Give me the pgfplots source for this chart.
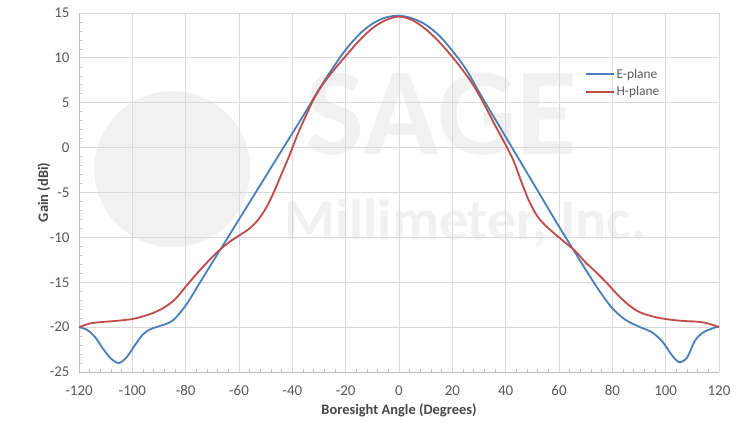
\documentclass[border=0pt]{standalone}
\usepackage{pgfplots}
\pgfplotsset{compat=1.18}
\usepackage{fontspec}
\setmainfont{Carlito}
\definecolor{eblue}{HTML}{4A7EBB}
\definecolor{hred}{HTML}{BE4B48}
\definecolor{tickgray}{HTML}{595959}
\definecolor{gridgray}{HTML}{D9D9D9}
\definecolor{axgray}{HTML}{BFBFBF}
\definecolor{wm}{HTML}{F1F1F1}
\begin{document}
\begin{tikzpicture}
\begin{axis}[
  set layers,
  scale only axis,
  width=640bp, height=359bp,
  xmin=-120, xmax=120, ymin=-25, ymax=15,
  xtick={-120,-100,...,120},
  ytick={-25,-20,...,15},
  minor x tick num=4, minor y tick num=4,
  grid=major,
  major grid style={gridgray, line width=0.8bp},
  axis x line*=bottom, axis y line*=left,
  axis line style={axgray, line width=0.8bp},
  every tick/.style={axgray, line width=0.6bp},
  major tick length=0bp, minor tick length=3bp,
  tick align=inside,
  /pgf/number format/assume math mode=true,
  tick label style={font=\fontsize{15}{17}\selectfont, text=tickgray},
  xticklabel style={yshift=-10bp},
  yticklabel style={xshift=-6bp},
  xlabel={\textbf{Boresight Angle (Degrees)}},
  ylabel={\textbf{Gain (dBi)}},
  label style={font=\fontsize{14.5}{16}\selectfont, text=tickgray!80!black},
  xlabel style={at={(axis description cs:0.5,-0.106)}, anchor=center},
  ylabel style={at={(axis description cs:-0.055,0.5)}, anchor=center},
  legend style={draw=none, fill=none, at={(axis description cs:0.79,0.805)}, anchor=west,
    font=\fontsize{13.5}{15}\selectfont, text=tickgray, row sep=3bp, inner sep=0pt},
  legend cell align=left,
  legend image code/.code={\draw[#1, line width=1.8bp] (0bp,0bp) -- (28bp,0bp);},
]
\begin{pgfonlayer}{axis background}
\fill[wm] (axis cs:-85,-2.4) circle [radius=78bp];
\node[text=wm, font=\fontsize{125}{125}\selectfont\bfseries] at (axis cs:16,3.7) {SAGE};
\node[text=wm, font=\fontsize{58}{58}\selectfont\bfseries] at (axis cs:25,-8.4) {Millimeter, Inc.};
\end{pgfonlayer}
\addplot[eblue, line width=1.8bp, smooth, tension=0.5] coordinates {
(-120,-20.0) (-117,-20.3) (-114,-21.1) (-111,-22.4) (-108,-23.5) (-105,-24.0) (-102,-23.3)
(-99,-22.0) (-96,-20.8) (-93,-20.2) (-90,-19.9) (-85,-19.3) (-80,-17.6) (-75,-15.2)
(-70,-12.8) (-65,-10.4) (-60,-8.0) (-55,-5.6) (-50,-3.2) (-45,-0.8) (-40,1.6) (-35,4.0)
(-30,6.5) (-25,8.8) (-20,10.9) (-15,12.6) (-10,13.8) (-5,14.5) (0,14.7) (5,14.4)
(10,13.7) (15,12.5) (20,10.8) (25,8.8) (30,6.2) (35,3.7) (40,1.2) (45,-1.3) (50,-3.8)
(55,-6.3) (60,-8.8) (65,-11.2) (70,-13.6) (75,-15.9) (80,-17.9) (85,-19.2) (90,-19.95)
(95,-20.6) (99,-21.7) (102,-23.0) (105,-23.9) (108,-23.4) (111,-21.5) (114,-20.6)
(117,-20.2) (120,-19.9)
};
\addlegendentry{E-plane}
\addplot[hred, line width=1.8bp, smooth, tension=0.5] coordinates {
(-120,-20.0) (-116,-19.6) (-112,-19.45) (-106,-19.3) (-100,-19.1) (-96,-18.8) (-92,-18.4)
(-88,-17.8) (-84,-16.9) (-80,-15.5) (-76,-14.1) (-72,-12.8) (-68,-11.6) (-64,-10.6)
(-60,-9.8) (-56,-9.0) (-53,-8.1) (-50,-6.8) (-47,-5.0) (-44,-2.9) (-41,-0.8) (-38,1.5)
(-35,3.5) (-32,5.4) (-28,7.3) (-24,8.8) (-20,10.2) (-15,11.9) (-10,13.3) (-5,14.2)
(0,14.6) (5,14.2) (10,13.2) (15,11.8) (20,10.1) (24,8.6) (28,6.9) (32,4.8) (36,2.5)
(40,0.3) (43,-1.5) (46,-3.9) (49,-6.1) (52,-7.7) (55,-8.7) (58,-9.5) (62,-10.5)
(66,-11.5) (70,-12.8) (74,-13.9) (78,-15.1) (82,-16.4) (86,-17.5) (90,-18.3)
(95,-18.8) (100,-19.1) (106,-19.3) (112,-19.4) (116,-19.6) (120,-20.0)
};
\addlegendentry{H-plane}
\end{axis}
\path[use as bounding box] ([xshift=-79bp,yshift=-49bp]current axis.south west) rectangle ([xshift=24bp,yshift=13bp]current axis.north east);
\end{tikzpicture}
\end{document}
